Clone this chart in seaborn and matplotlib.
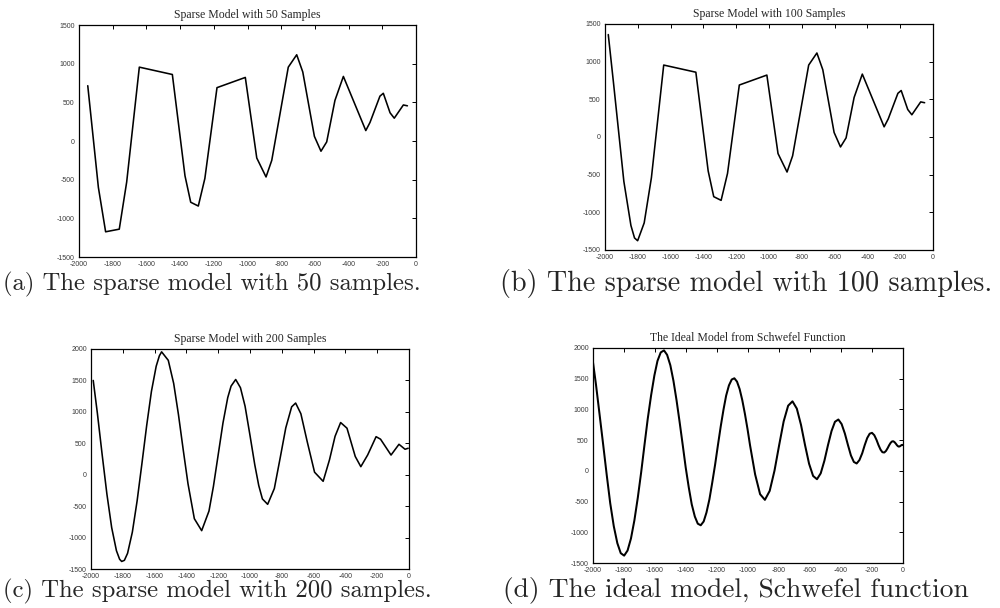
import matplotlib
matplotlib.use("Agg")
import matplotlib.pyplot as plt
import pandas as pd
import seaborn as sns

# ---------------- data ----------------
x_ticks = [-2000, -1800, -1600, -1400, -1200, -1000, -800, -600, -400, -200, 0]
y_ticks_top = [-1500, -1000, -500, 0, 500, 1000, 1500]
y_ticks_bottom = [-1500, -1000, -500, 0, 500, 1000, 1500, 2000]

titles = ["Sparse Model with 50 Samples", "Sparse Model with 100 Samples",
          "Sparse Model with 200 Samples", "The Ideal Model from Schwefel Function"]
captions = ["(a) The sparse model with 50 samples.", "(b) The sparse model with 100 samples.",
            "(c) The sparse model with 200 samples.", "(d) The ideal model, Schwefel function"]

a_x = [-1948, -1885, -1842, -1761, -1717, -1642, -1446, -1371, -1337, -1292, -1253, -1181,
       -1013, -945, -890, -856, -758, -708, -672, -603, -564, -530, -481, -431, -298, -273,
       -214, -194, -154, -129, -75, -51]
a_y = [715, -600, -1174, -1140, -530, 955, 860, -450, -792, -841, -484, 690,
       822, -220, -465, -250, 955, 1115, 893, 60, -132, -12, 525, 835, 135, 240,
       580, 617, 365, 295, 466, 455]

b_x = [-1980, -1948, -1885, -1842, -1820, -1801, -1761, -1717, -1642, -1446, -1371, -1337,
       -1292, -1253, -1181, -1013, -945, -890, -856, -758, -708, -672, -603, -564, -530,
       -481, -431, -298, -273, -214, -194, -154, -129, -75, -51]
b_y = [1360, 715, -590, -1174, -1340, -1377, -1140, -540, 955, 860, -450, -792,
       -841, -484, 690, 822, -220, -465, -250, 955, 1115, 893, 60, -132, -12,
       525, 835, 135, 240, 580, 617, 365, 295, 466, 455]

c_x = [-1986, -1960, -1930, -1900, -1870, -1840, -1820, -1807, -1790, -1770, -1740, -1710,
       -1680, -1650, -1620, -1590, -1570, -1556, -1514, -1480, -1450, -1420, -1390, -1350,
       -1304, -1258, -1230, -1200, -1170, -1140, -1119, -1090, -1060, -1031, -1000, -970,
       -945, -922, -889, -847, -810, -775, -738, -713, -680, -640, -594, -540, -500, -465,
       -430, -390, -338, -303, -260, -207, -179, -113, -63, -25, -5]
c_y = [1500, 980, 323, -308, -841, -1209, -1345, -1380, -1362, -1250, -914, -417,
       172, 779, 1325, 1726, 1892, 1955, 1820, 1452, 957, 396, -143, -700,
       -890, -578, -185, 319, 823, 1227, 1410, 1515, 1384, 1090, 625, 159,
       -172, -385, -471, -220, 270, 745, 1080, 1140, 970, 524, 40, -105, 238, 611,
       830, 740, 290, 128, 314, 605, 565, 313, 484, 405, 421]

d_x = [-2000, -1981, -1958, -1934, -1911, -1889, -1866, -1843, -1821, -1799, -1777, -1755,
       -1733, -1711, -1689, -1668, -1647, -1625, -1604, -1584, -1563, -1542, -1522, -1501,
       -1481, -1461, -1441, -1421, -1402, -1382, -1363, -1343, -1324, -1305, -1286, -1268,
       -1249, -1231, -1212, -1194, -1176, -1158, -1141, -1123, -1105, -1088, -1071, -1054,
       -1037, -1020, -1003, -987, -954, -922, -891, -860, -829, -799, -770, -741, -713,
       -685, -658, -632, -606, -580, -555, -531, -507, -484, -461, -439, -417, -396, -375,
       -355, -336, -317, -299, -281, -263, -247, -231, -215, -200, -185, -171, -158, -145,
       -133, -121, -110, -99, -89, -79, -70, -62, -54, -46, -39.5, -33, -27.4, -22.2,
       -17.6, -13.4, -9.9, -6.9, -4.4, -2.5, -1.1, -0.3, 0]
d_y = [1767, 1409, 926, 419, -76, -525, -900, -1177, -1340, -1380, -1297, -1100,
       -806, -437, -18, 419, 845, 1232, 1553, 1790, 1928, 1961, 1889, 1719,
       1466, 1149, 792, 419, 56, -272, -545, -744, -860, -886, -824, -679,
       -464, -196, 105, 419, 723, 998, 1225, 1391, 1487, 1507, 1453, 1332,
       1152, 929, 679, 419, -58, -380, -472, -326, 4, 419, 804, 1061, 1132,
       1013, 748, 419, 116, -83, -136, -41, 166, 419, 649, 799, 836, 762, 607,
       419, 251, 145, 120, 176, 287, 419, 534, 605, 619, 580, 505, 419, 346,
       304, 298, 324, 370, 419, 459, 480, 481, 466, 442, 419, 402, 395, 397,
       404, 412, 419, 422, 423, 421, 420, 419, 419]

assert len(a_x) == len(a_y) and len(b_x) == len(b_y)
assert len(c_x) == len(c_y) and len(d_x) == len(d_y)

# ---------------- styling ----------------
sns.set_style("white")
plt.rcParams["axes.unicode_minus"] = False

fig = plt.figure(figsize=(10, 6.08), dpi=100)

# axes rectangles [left, bottom, width, height] in figure fraction
rects = [
    [0.079, 1 - 257 / 608, 0.337, 232 / 608],
    [0.605, 1 - 250 / 608, 0.328, 226 / 608],
    [0.091, 1 - 569 / 608, 0.318, 220 / 608],
    [0.593, 1 - 563 / 608, 0.310, 215 / 608],
]
series = [(a_x, a_y), (b_x, b_y), (c_x, c_y), (d_x, d_y)]
yticks_list = [y_ticks_top, y_ticks_top, y_ticks_bottom, y_ticks_bottom]
ylims = [(-1500, 1500), (-1500, 1500), (-1500, 2000), (-1500, 2000)]
lws = [1.15, 1.15, 1.15, 1.45]

for i in range(4):
    ax = fig.add_axes(rects[i])
    xs, ys = series[i]
    df = pd.DataFrame({"x": xs, "y": ys})
    sns.lineplot(data=df, x="x", y="y", ax=ax, color="black", lw=lws[i],
                 sort=False, estimator=None)
    ax.set_xlim(-2000, 0)
    ax.set_ylim(*ylims[i])
    ax.set_xticks(x_ticks)
    ax.set_xticklabels([str(v) for v in x_ticks], fontsize=5.0,
                       family="Liberation Sans")
    ax.set_yticks(yticks_list[i])
    ax.set_yticklabels([str(v) for v in yticks_list[i]], fontsize=5.0,
                       family="Liberation Sans")
    ax.tick_params(direction="in", length=3, width=0.7, top=True, right=True,
                   labeltop=False, labelright=False, pad=3, colors="black",
                   labelcolor="#3a3a3a")
    ax.set_xlabel("")
    ax.set_ylabel("")
    ax.set_title(titles[i], fontsize=8.5, family="Liberation Serif", pad=5)
    for s in ax.spines.values():
        s.set_linewidth(0.9)
        s.set_color("black")
        s.set_visible(True)

cap_pos = [(0.003, 1 - 284 / 608), (0.500, 1 - 284 / 608),
           (0.003, 1 - 591 / 608), (0.503, 1 - 591 / 608)]
cap_sizes = [17.8, 20.3, 17.8, 19.8]
for (cx, cy), txt, fs in zip(cap_pos, captions, cap_sizes):
    fig.text(cx, cy, txt, family="cmr10", fontsize=fs, ha="left", va="center")

fig.savefig("out.png", dpi=100)
